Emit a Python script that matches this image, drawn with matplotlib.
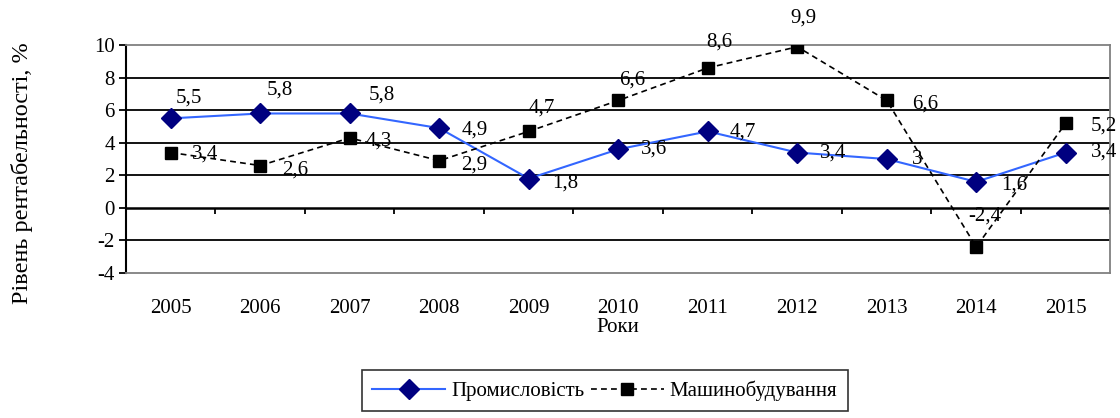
import numpy as np
import matplotlib
matplotlib.use("Agg")
import matplotlib.pyplot as plt

plt.rcParams['font.family'] = ['Liberation Serif', 'DejaVu Serif']
plt.rcParams['axes.unicode_minus'] = False

years = ['2005', '2006', '2007', '2008', '2009', '2010', '2011', '2012', '2013', '2014', '2015']
industry = [5.5, 5.8, 5.8, 4.9, 1.8, 3.6, 4.7, 3.4, 3, 1.6, 3.4]
machinery = [3.4, 2.6, 4.3, 2.9, 4.7, 6.6, 8.6, 9.9, 6.6, -2.4, 5.2]

# label offsets in pixels (dx, dy), text is left-aligned, vertically centred
industry_offsets = [(5, 20), (6, 23), (19, 18), (22, -2), (23, -4), (23, 0),
                    (22, -1), (23, -1), (25, 0), (25, -3), (25, 0)]
machinery_offsets = [(21, -2), (22, -4), (16, -3), (22, -4), (0, 23), (1, 20),
                     (-1, 26), (-7, 29), (25, -4), (-8, 31), (25, -3)]

FS = 15


def fmt(v):
    return ('%g' % v).replace('.', ',')


fig = plt.figure(figsize=(11.2, 4.18), dpi=100)
ax = fig.add_axes([0.1125, 0.347, 0.879, 0.545])

x = np.arange(len(years))

for yv in [-2, 2, 4, 6, 8]:
    ax.axhline(yv, color='black', lw=1.3, zorder=1)
ax.axhline(0, color='black', lw=1.8, zorder=1)
ax.vlines(np.arange(0.5, len(years)), -0.4, 0, color='black', lw=1.3, zorder=1)

ax.plot(x, industry, color='#3366ff', lw=1.5, marker='D', markersize=10,
        markerfacecolor='#000080', markeredgecolor='#000080', zorder=3,
        label='Промисловість')
ax.plot(x, machinery, color='black', lw=1.2, ls=(0, (3.5, 2.5)), marker='s', markersize=8,
        markerfacecolor='black', markeredgecolor='black', zorder=3,
        label='Машинобудування')

for xi, v, off in zip(x, industry, industry_offsets):
    ax.annotate(fmt(v), (xi, v), xytext=off, textcoords='offset pixels',
                ha='left', va='center', fontsize=FS, zorder=4)
for xi, v, off in zip(x, machinery, machinery_offsets):
    ax.annotate(fmt(v), (xi, v), xytext=off, textcoords='offset pixels',
                ha='left', va='center', fontsize=FS, zorder=4)

ax.set_xlim(-0.5, len(years) - 0.5)
ax.set_ylim(-4, 10)
ax.set_yticks(np.arange(-4, 11, 2))
ax.set_xticks(x)
ax.set_xticklabels(years)
ax.tick_params(axis='x', length=0, pad=19, labelsize=FS)
ax.tick_params(axis='y', length=5, width=1.3, direction='out', labelsize=FS, pad=3)

for s in ['top', 'right', 'bottom']:
    ax.spines[s].set_color('#808080')
    ax.spines[s].set_linewidth(1.3)
ax.spines['left'].set_color('black')
ax.spines['left'].set_linewidth(1.5)

ax.set_xlabel('Роки', fontsize=FS, labelpad=0)
ax.set_ylabel('Рівень рентабельності, %', fontsize=17.5)
ax.yaxis.set_label_coords(-0.094, 0.44)

leg = fig.legend(loc='center', bbox_to_anchor=(0.54, 0.065), ncol=2, fontsize=FS,
                 frameon=True, fancybox=False, edgecolor='black', handlelength=3.5,
                 columnspacing=0.3, handletextpad=0.3, borderpad=0.5)
leg.get_frame().set_linewidth(1.2)

fig.savefig('out.png', dpi=100)
